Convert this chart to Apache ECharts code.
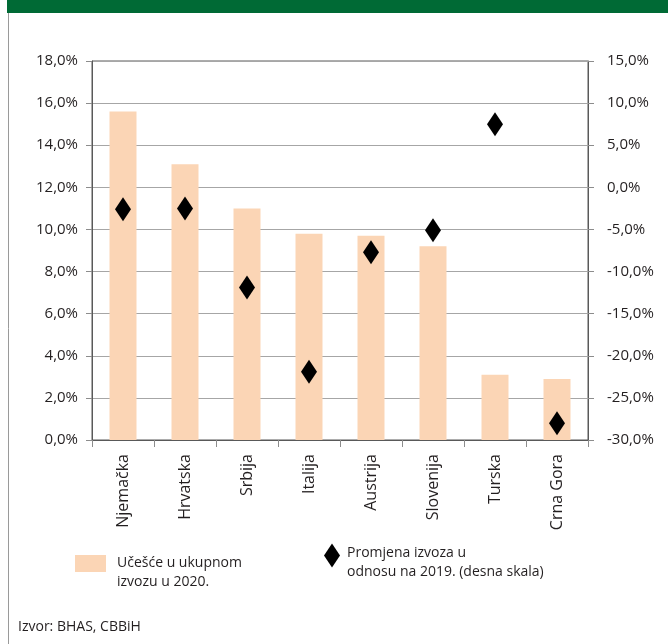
<!DOCTYPE html>
<html>
<head>
<meta charset="utf-8">
<script src="https://cdn.jsdelivr.net/npm/echarts@6/dist/echarts.min.js"></script>
<style>
html,body{margin:0;padding:0;background:#fff;}
#chart{width:668px;height:644px;}
</style>
</head>
<body>
<div id="chart"></div>
<script>
const categories = ['Njemačka','Hrvatska','Srbija','Italija','Austrija','Slovenija','Turska','Crna Gora'];
const shareValues = [15.6, 13.1, 11.0, 9.8, 9.7, 9.2, 3.1, 2.9];
const changeValues = [-2.6, -2.5, -11.9, -21.9, -7.7, -5.1, 7.5, -28.0];
const shareName = 'Učešće u ukupnom\nizvozu u 2020.';
const changeName = 'Promjena izvoza u\nodnosu na 2019. (desna skala)';
const sourceText = 'Izvor: BHAS, CBBiH';

const FONT = '"Open Sans", "Noto Sans", sans-serif';
const TXT = '#231f20';
const fmt = v => v.toFixed(1).replace('.', ',') + '%';
const legendFmt = name => '{s| }\n' + name.split('\n').map(l => '{t|' + l + '}').join('\n');

const chart = echarts.init(document.getElementById('chart'));
chart.setOption({
  animation: false,
  backgroundColor: '#fff',
  textStyle: {fontFamily: FONT, color: TXT},
  graphic: [
    {type: 'rect', shape: {x: 7, y: 0, width: 661, height: 13}, style: {fill: '#006a35'}},
    {type: 'line', shape: {x1: 8.5, y1: 13, x2: 8.5, y2: 644}, style: {stroke: '#9a9a9a', lineWidth: 1}},
    {type: 'text', left: 18, top: 620, style: {text: sourceText, font: '14px ' + FONT, fill: TXT}}
  ],
  grid: {left: 92, right: 80, top: 61, bottom: 204, show: true, borderColor: '#595959', borderWidth: 1, containLabel: false},
  legend: [
    {
      data: [shareName], left: 75, top: 544, padding: 0, itemWidth: 31, itemHeight: 17, itemGap: 0,
      formatter: legendFmt,
      textStyle: {fontFamily: FONT, fontSize: 14, color: TXT, padding: [0, 0, 0, 6],
        rich: {s: {fontSize: 1, lineHeight: 19}, t: {fontSize: 14, lineHeight: 19, fontFamily: FONT, color: TXT}}},
      icon: 'rect', selectedMode: false
    },
    {
      data: [changeName], left: 324, top: 536, padding: 0, itemWidth: 16, itemHeight: 24, itemGap: 0,
      formatter: legendFmt,
      textStyle: {fontFamily: FONT, fontSize: 14, color: TXT, padding: [0, 0, 0, 2],
        rich: {s: {fontSize: 1, lineHeight: 14}, t: {fontSize: 14, lineHeight: 19, fontFamily: FONT, color: TXT}}},
      icon: 'diamond', selectedMode: false
    }
  ],
  xAxis: {
    type: 'category', data: categories,
    axisLine: {lineStyle: {color: '#595959', width: 1}},
    axisTick: {show: true, length: 7, lineStyle: {color: '#8c8c8c'}},
    axisLabel: {rotate: 90, margin: 14, fontSize: 16, color: TXT, fontFamily: FONT, interval: 0}
  },
  yAxis: [
    {
      type: 'value', min: 0, max: 18, interval: 2, position: 'left',
      axisLine: {show: true, lineStyle: {color: '#595959'}},
      axisTick: {show: true, length: 6, lineStyle: {color: '#8c8c8c'}},
      axisLabel: {formatter: fmt, fontSize: 15, color: TXT, fontFamily: FONT, margin: 14},
      splitLine: {lineStyle: {color: '#a6a6a6', width: 1}}
    },
    {
      type: 'value', min: -30, max: 15, interval: 5, position: 'right',
      axisLine: {show: true, lineStyle: {color: '#595959'}},
      axisTick: {show: true, length: 6, lineStyle: {color: '#8c8c8c'}},
      axisLabel: {formatter: fmt, fontSize: 15, color: TXT, fontFamily: FONT, margin: 19},
      splitLine: {show: false}
    }
  ],
  series: [
    {
      name: shareName, type: 'bar', yAxisIndex: 0, data: shareValues,
      barWidth: 27, itemStyle: {color: '#fbd5b5'}
    },
    {
      name: changeName, type: 'scatter', yAxisIndex: 1, data: changeValues,
      symbol: 'diamond', symbolSize: [16, 24], itemStyle: {color: '#000', opacity: 1}, z: 5
    }
  ]
});
</script>
</body>
</html>
